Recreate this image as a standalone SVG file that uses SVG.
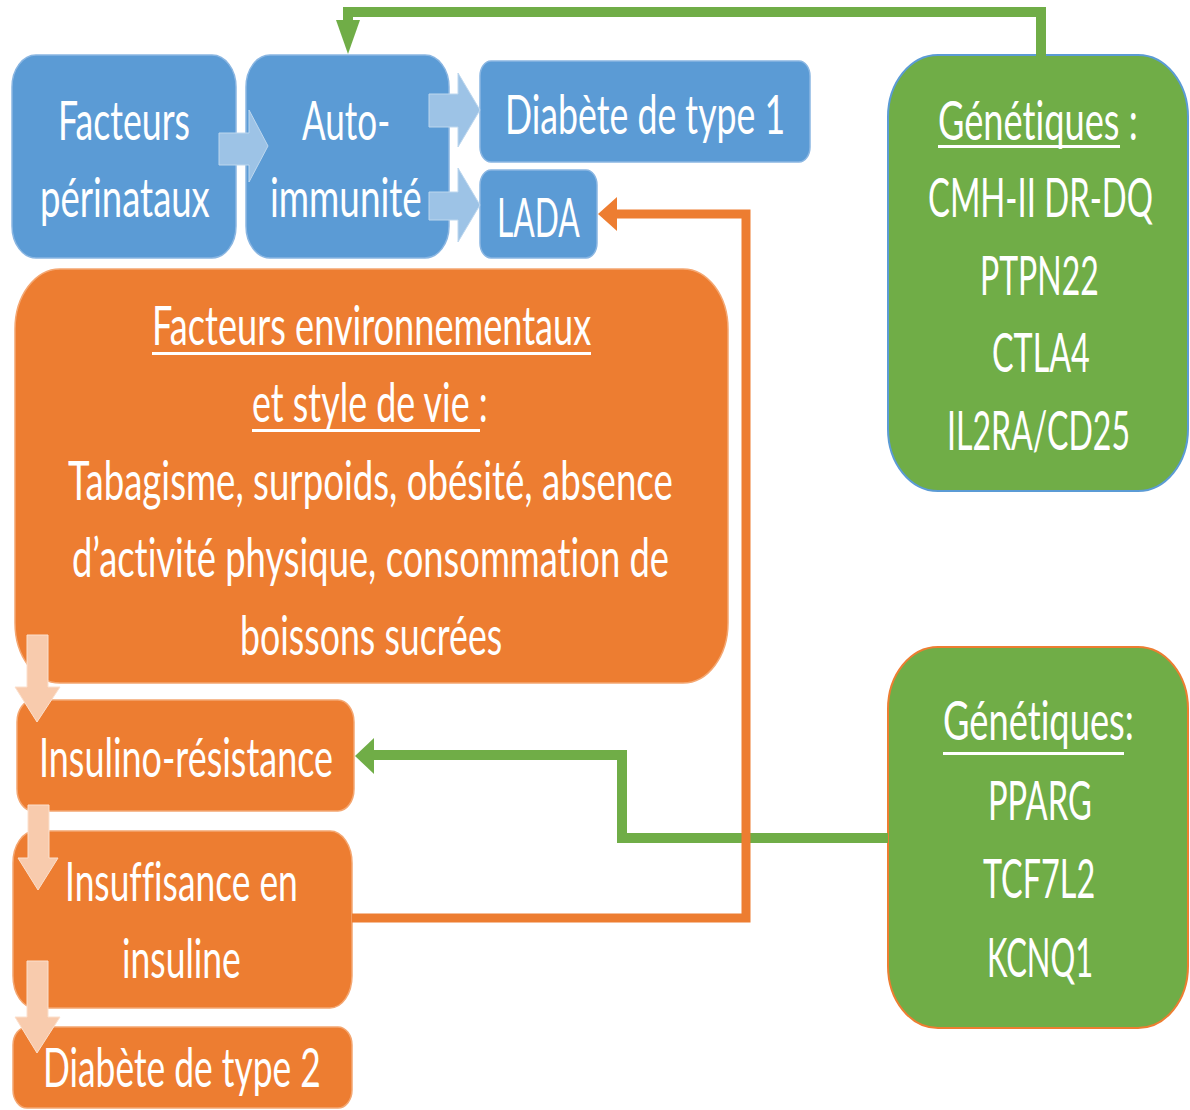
<svg xmlns="http://www.w3.org/2000/svg" width="1190" height="1110" viewBox="0 0 1190 1110">
<style>
text{font-family:Lato,"Open Sans","Liberation Sans",sans-serif;font-size:55px;fill:#ffffff;font-variant-ligatures:none;}
.blue{fill:#5B9BD5;stroke:#8AB6E2;stroke-width:1.5;}
.orange{fill:#ED7D31;stroke:#F4A772;stroke-width:1.5;}
.greenA{fill:#70AD47;stroke:#5B9BD5;stroke-width:2;}
.greenB{fill:#70AD47;stroke:#ED7D31;stroke-width:2;}
.ul{fill:#ffffff;}
.lb{fill:#9DC3E6;stroke:#BDD7EE;stroke-width:1;}
.lo{fill:#F8CBAD;stroke:#FBE0CD;stroke-width:1;}
.gl{fill:none;stroke:#70AD47;stroke-width:10;}
.ol{fill:none;stroke:#ED7D31;stroke-width:9;}
</style>
<rect width="1190" height="1110" fill="#ffffff"/>
<g id="nodes">
<g id="facteurs-perinataux">
<rect class="blue" x="12" y="55" width="224" height="203" rx="24" ry="32"/>
<text transform="translate(58,140) scale(0.6,1)" textLength="220" lengthAdjust="spacingAndGlyphs">Facteurs</text>
<text transform="translate(40,217) scale(0.6,1)" textLength="283" lengthAdjust="spacingAndGlyphs">périnataux</text>
</g>
<g id="auto-immunite">
<rect class="blue" x="246" y="55" width="203" height="203" rx="24" ry="32"/>
<text transform="translate(302,140) scale(0.6,1)" textLength="147" lengthAdjust="spacingAndGlyphs">Auto-</text>
<text transform="translate(270,217) scale(0.6,1)" textLength="253" lengthAdjust="spacingAndGlyphs">immunité</text>
</g>
<g id="diabete-type1">
<rect class="blue" x="480" y="61" width="330" height="101" rx="11" ry="15"/>
<text transform="translate(505,134) scale(0.6,1)" textLength="467" lengthAdjust="spacingAndGlyphs">Diabète de type 1</text>
</g>
<g id="lada">
<rect class="blue" x="480" y="170" width="117" height="88" rx="11" ry="15"/>
<text transform="translate(497,237) scale(0.6,1)" textLength="138" lengthAdjust="spacingAndGlyphs">LADA</text>
</g>
<g id="genetiques-1">
<rect class="greenA" x="888" y="55" width="300" height="436" rx="50" ry="62"/>
<text transform="translate(938,140) scale(0.6,1)" textLength="333" lengthAdjust="spacingAndGlyphs">Génétiques :</text>
<rect class="ul" x="938" y="145" width="182" height="3"/>
<text transform="translate(928,217) scale(0.6,1)" textLength="375" lengthAdjust="spacingAndGlyphs">CMH-II DR-DQ</text>
<text transform="translate(980,295) scale(0.6,1)" textLength="198" lengthAdjust="spacingAndGlyphs">PTPN22</text>
<text transform="translate(992,372) scale(0.6,1)" textLength="163" lengthAdjust="spacingAndGlyphs">CTLA4</text>
<text transform="translate(947,450) scale(0.6,1)" textLength="305" lengthAdjust="spacingAndGlyphs">IL2RA/CD25</text>
</g>
<g id="facteurs-environnementaux">
<rect class="orange" x="15" y="269" width="713" height="414" rx="45" ry="60"/>
<text transform="translate(152,345) scale(0.6,1)" textLength="732" lengthAdjust="spacingAndGlyphs">Facteurs environnementaux</text>
<rect class="ul" x="152" y="352" width="439" height="3"/>
<text transform="translate(252,422) scale(0.6,1)" textLength="393" lengthAdjust="spacingAndGlyphs">et style de vie :</text>
<rect class="ul" x="252" y="429" width="228" height="3"/>
<text transform="translate(68,500) scale(0.6,1)" textLength="1008" lengthAdjust="spacingAndGlyphs">Tabagisme, surpoids, obésité, absence</text>
<text transform="translate(72,577) scale(0.6,1)" textLength="995" lengthAdjust="spacingAndGlyphs">d’activité physique, consommation de</text>
<text transform="translate(240,655) scale(0.6,1)" textLength="437" lengthAdjust="spacingAndGlyphs">boissons sucrées</text>
</g>
<g id="insulino-resistance">
<rect class="orange" x="17" y="700" width="337" height="111" rx="16" ry="22"/>
<text transform="translate(39,777) scale(0.6,1)" textLength="490" lengthAdjust="spacingAndGlyphs">Insulino-résistance</text>
</g>
<g id="insuffisance-insuline">
<rect class="orange" x="13" y="831" width="339" height="177" rx="22" ry="32"/>
<text transform="translate(65,901) scale(0.6,1)" textLength="388" lengthAdjust="spacingAndGlyphs">Insuffisance en</text>
<text transform="translate(122,978) scale(0.6,1)" textLength="198" lengthAdjust="spacingAndGlyphs">insuline</text>
</g>
<g id="diabete-type2">
<rect class="orange" x="13" y="1027" width="339" height="81" rx="14" ry="18"/>
<text transform="translate(43,1087) scale(0.6,1)" textLength="463" lengthAdjust="spacingAndGlyphs">Diabète de type 2</text>
</g>
<g id="genetiques-2">
<rect class="greenB" x="888" y="647" width="300" height="381" rx="50" ry="62"/>
<text transform="translate(943,740) scale(0.6,1)" textLength="318" lengthAdjust="spacingAndGlyphs">Génétiques:</text>
<rect class="ul" x="943" y="752" width="181" height="3"/>
<text transform="translate(988,820) scale(0.6,1)" textLength="173" lengthAdjust="spacingAndGlyphs">PPARG</text>
<text transform="translate(983,898) scale(0.6,1)" textLength="187" lengthAdjust="spacingAndGlyphs">TCF7L2</text>
<text transform="translate(987,977) scale(0.6,1)" textLength="177" lengthAdjust="spacingAndGlyphs">KCNQ1</text>
</g>
</g>
<g id="connectors">
<path class="gl" d="M1041,56 V12 H348 V24"/>
<polygon fill="#70AD47" points="336,20 360,20 348,54"/>
<path class="gl" d="M888,838 H622 V755 H370"/>
<polygon fill="#70AD47" points="374,738 374,774 355,756"/>
<path class="ol" d="M352,918 H746 V214 H612"/>
<polygon fill="#ED7D31" points="617,197 617,231 598,214"/>
<polygon class="lb" points="219,133 249,133 249,110 268,146 249,182 249,165 219,165"/>
<polygon class="lb" points="429,94 458,94 458,73 480,110 458,147 458,127 429,127"/>
<polygon class="lb" points="429,192 458,192 458,168 480,205 458,242 458,220 429,220"/>
<polygon class="lo" points="27,635 48,635 48,687 60,687 37,722 15,687 27,687"/>
<polygon class="lo" points="28,805 49,805 49,858 58,858 38,890 18,858 28,858"/>
<polygon class="lo" points="27,961 48,961 48,1017 60,1017 37,1053 15,1017 27,1017"/>
</g>
</svg>
